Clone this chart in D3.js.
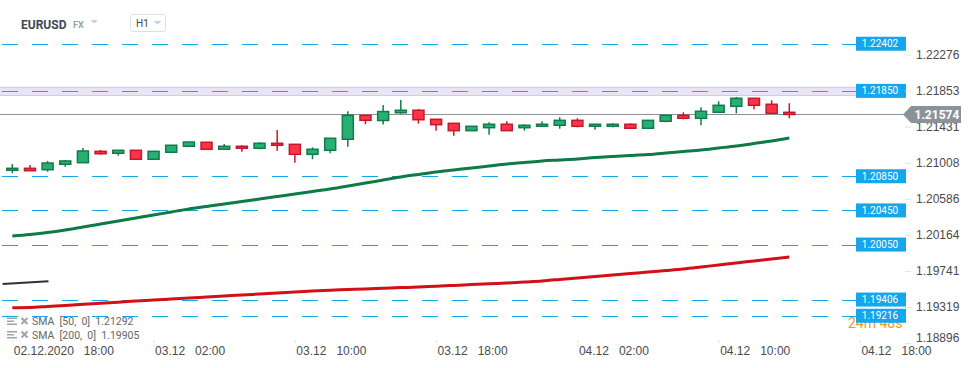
<!DOCTYPE html>
<meta charset="utf-8">

<style>
body { margin: 0; background: #fff; }
svg { font-family: Roboto, Arial, sans-serif; }
.axis .domain { display: none; }
.axis line { stroke: #e3e3e3; }
.axis text { fill: #4a4a4a; font-size: 12px; }
.level-label { fill: #fff; font-size: 10px; text-anchor: middle; }
.legend { fill: #666; font-size: 10.5px; }
</style>

<body>
<script src="https://d3js.org/d3.v7.min.js"></script>
<script>
var w = 974, h = 368;

// hourly EURUSD candles, 02.12.2020 18:00 .. 04.12.2020 14:00
var opens  = [1.20920,1.20943,1.20927,1.20990,1.21009,1.21142,1.21119,1.21154,1.21049,1.21131,
              1.21201,1.21248,1.21166,1.21201,1.21178,1.21236,1.21224,1.21107,1.21154,1.21283,
              1.21564,1.21503,1.21594,1.21623,1.21517,1.21470,1.21384,1.21419,1.21459,1.21419,
              1.21435,1.21447,1.21505,1.21435,1.21435,1.21459,1.21412,1.21494,1.21564,1.21529,
              1.21599,1.21669,1.21763,1.21693,1.21599];
var highs  = [1.20994,1.20982,1.21029,1.21040,1.21181,1.21158,1.21154,1.21154,1.21142,1.21213,
              1.21251,1.21248,1.21228,1.21213,1.21248,1.21392,1.21224,1.21189,1.21295,1.21611,
              1.21564,1.21685,1.21743,1.21638,1.21517,1.21470,1.21435,1.21482,1.21494,1.21459,
              1.21494,1.21541,1.21529,1.21459,1.21470,1.21470,1.21505,1.21564,1.21599,1.21658,
              1.21728,1.21778,1.21763,1.21740,1.21705];
var lows   = [1.20885,1.20915,1.20903,1.20962,1.21009,1.21103,1.21091,1.21049,1.21049,1.21131,
              1.21201,1.21166,1.21166,1.21138,1.21166,1.21149,1.21009,1.21049,1.21119,1.21196,
              1.21459,1.21456,1.21583,1.21466,1.21384,1.21325,1.21384,1.21337,1.21384,1.21384,
              1.21435,1.21407,1.21423,1.21395,1.21423,1.21412,1.21412,1.21482,1.21517,1.21447,
              1.21599,1.21587,1.21634,1.21587,1.21529];
var closes = [1.20943,1.20915,1.21005,1.21029,1.21146,1.21114,1.21154,1.21049,1.21142,1.21213,
              1.21251,1.21166,1.21201,1.21178,1.21236,1.21213,1.21107,1.21166,1.21295,1.21564,
              1.21505,1.21608,1.21623,1.21512,1.21454,1.21384,1.21435,1.21459,1.21384,1.21447,
              1.21459,1.21505,1.21435,1.21459,1.21459,1.21412,1.21505,1.21564,1.21529,1.21611,
              1.21681,1.21763,1.21681,1.21587,1.21574];

var sma50  = [1.20150,1.20168,1.20191,1.20221,1.20256,1.20291,1.20326,1.20361,1.20396,1.20432,
              1.20467,1.20496,1.20525,1.20555,1.20584,1.20613,1.20642,1.20672,1.20701,1.20736,
              1.20771,1.20806,1.20841,1.20871,1.20900,1.20923,1.20947,1.20970,1.20994,1.21011,
              1.21029,1.21040,1.21052,1.21070,1.21082,1.21093,1.21105,1.21122,1.21140,1.21158,
              1.21181,1.21204,1.21234,1.21263,1.21298];
var sma200 = [1.19311,1.19313,1.19325,1.19337,1.19351,1.19362,1.19375,1.19389,1.19401,1.19413,
              1.19424,1.19436,1.19448,1.19460,1.19471,1.19483,1.19495,1.19506,1.19515,1.19523,
              1.19530,1.19538,1.19546,1.19553,1.19563,1.19572,1.19581,1.19591,1.19600,1.19612,
              1.19624,1.19641,1.19659,1.19676,1.19694,1.19711,1.19729,1.19746,1.19764,1.19787,
              1.19811,1.19834,1.19858,1.19881,1.19905];
// short dark line at the far left (bar index, price)
var darkLine = [[-0.55, 1.19588], [2.05, 1.19620]];

var levels = [1.22402, 1.21850, 1.20850, 1.20450, 1.20050, 1.19406, 1.19216];
var zone = [1.21900, 1.21800];
var lastPrice = 1.21574;

var yTicks = [1.22276, 1.21853, 1.21431, 1.21008, 1.20586, 1.20164, 1.19741, 1.19319, 1.18896];
var xTickBars = [0, 8, 16, 24, 32, 40, 48];
var xTickLabels = ["02.12.2020\u00a0\u00a0\u00a018:00", "03.12\u00a0\u00a0\u00a002:00", "03.12\u00a0\u00a0\u00a010:00",
                   "03.12\u00a0\u00a0\u00a018:00", "04.12\u00a0\u00a0\u00a002:00", "04.12\u00a0\u00a0\u00a010:00",
                   "04.12\u00a0\u00a0\u00a018:00"];
var legendRows = ["SMA\u00a0\u00a0[50,\u00a0\u00a00]\u00a0\u00a01.21292", "SMA\u00a0\u00a0[200,\u00a0\u00a00]\u00a0\u00a01.19905"];
var timer = "24m 48s";

var svg = d3.select("body").append("svg")
            .attr("width", w)
            .attr("height", h);

var x = d3.scaleLinear().domain([0, 44]).range([12.3, 789.3]);
var y = d3.scaleLinear().domain([1.18896, 1.22276]).range([343.1, 54.5]);

var green = "#26b073", greenDark = "#137a4b", red = "#ff3347", redDark = "#c4182c";
var blue = "#15a6ec";

// header
svg.append("text").attr("x", 21).attr("y", 28.5)
   .style("font-size", "12px").style("font-weight", "bold").style("fill", "#3d4852")
   .text("EURUSD");
svg.append("text").attr("x", 73).attr("y", 28)
   .style("font-size", "9px").style("font-weight", "bold").style("fill", "#98a3ab")
   .text("FX");
svg.append("path").attr("d", "M90.5,20 L98,20 L94.25,23.5 Z").style("fill", "#c9cfd4");
svg.append("rect").attr("x", 130.5).attr("y", 14.5).attr("width", 35).attr("height", 17).attr("rx", 2)
   .style("fill", "#fff").style("stroke", "#dde1e4");
svg.append("text").attr("x", 136).attr("y", 27.3)
   .style("font-size", "10px").style("fill", "#3d4852")
   .text("H1");
svg.append("path").attr("d", "M153.5,21 L161.5,21 L157.5,24.5 Z").style("fill", "#c9cfd4");

// zone band
svg.append("rect")
   .attr("x", 0).attr("width", 857)
   .attr("y", y(zone[0])).attr("height", y(zone[1]) - y(zone[0]))
   .style("fill", "#e8e4f5");
svg.selectAll(".zone-edge").data(zone).enter().append("line")
   .attr("x1", 0).attr("x2", 857)
   .attr("y1", function(d){ return Math.round(y(d)) + 0.5; })
   .attr("y2", function(d){ return Math.round(y(d)) + 0.5; })
   .style("stroke", "#d2c9ec");

// dashed levels
svg.selectAll(".level").data(levels).enter().append("line")
   .attr("x1", 2).attr("x2", 856)
   .attr("y1", function(d){ return Math.round(y(d)) + 0.5; })
   .attr("y2", function(d){ return Math.round(y(d)) + 0.5; })
   .style("stroke", blue).style("stroke-dasharray", "16,14");

// current price line
svg.append("line")
   .attr("x1", 0).attr("x2", 904)
   .attr("y1", Math.round(y(lastPrice)) + 0.5).attr("y2", Math.round(y(lastPrice)) + 0.5)
   .style("stroke", "#8c9499");

// moving averages
var line = d3.line()
   .x(function(d, i){ return x(i); })
   .y(function(d){ return y(d); })
   .curve(d3.curveMonotoneX);

svg.append("path").datum(sma200).attr("d", line)
   .style("fill", "none").style("stroke", "#d21016").style("stroke-width", 3);
svg.append("path").datum(sma50).attr("d", line)
   .style("fill", "none").style("stroke", "#0d7a48").style("stroke-width", 3);
svg.append("path").datum(darkLine)
   .attr("d", d3.line().x(function(d){ return x(d[0]); }).y(function(d){ return y(d[1]); }))
   .style("fill", "none").style("stroke", "#2e3134").style("stroke-width", 2);

// candles
var candles = svg.append("g").selectAll("g")
   .data(opens.map(function(o, i){ return {i: i, o: o, h: highs[i], l: lows[i], c: closes[i]}; }))
   .enter().append("g");

candles.append("line")
   .attr("x1", function(d){ return x(d.i); })
   .attr("x2", function(d){ return x(d.i); })
   .attr("y1", function(d){ return y(d.h); })
   .attr("y2", function(d){ return y(d.l); })
   .style("stroke", function(d){ return d.c >= d.o ? greenDark : redDark; })
   .style("stroke-width", 1.5);

candles.append("rect")
   .attr("x", function(d){ return x(d.i) - 5.5; })
   .attr("width", 11)
   .attr("y", function(d){ return y(Math.max(d.o, d.c)); })
   .attr("height", function(d){ return Math.max(1.5, Math.abs(y(d.o) - y(d.c))); })
   .style("fill", function(d){ return d.c >= d.o ? green : red; })
   .style("stroke", function(d){ return d.c >= d.o ? greenDark : redDark; })
   .style("stroke-width", 1.5);

// timer, partly hidden behind the lowest label as in the platform
svg.append("text").attr("x", 848).attr("y", 328)
   .style("font-size", "14px").style("fill", "#f7941d")
   .text(timer);

// level labels
var lab = svg.selectAll(".level-box").data(levels).enter().append("g");
lab.append("rect")
   .attr("x", 856).attr("width", 50)
   .attr("y", function(d){ return y(d) - 7; }).attr("height", 14)
   .style("fill", blue);
lab.append("text")
   .attr("class", "level-label")
   .attr("x", 880).attr("y", function(d){ return y(d) + 3.6; })
   .text(function(d){ return d.toFixed(5); });

// y axis
var yAxis = svg.append("g")
   .attr("class", "axis")
   .attr("transform", "translate(905,0)")
   .call(d3.axisRight(y).tickValues(yTicks).tickSize(6).tickPadding(5)
         .tickFormat(function(d){ return d.toFixed(5); }));
yAxis.selectAll("text").filter(function(d){ return d === yTicks[yTicks.length - 1]; })
   .attr("dy", "-0.1em");

// current price tag
var py = y(lastPrice);
svg.append("path")
   .attr("d", "M903," + py + " L911," + (py - 8.5) + " L961," + (py - 8.5) + " L961," + (py + 8.5) + " L911," + (py + 8.5) + " Z")
   .style("fill", "#8b9398");
svg.append("text").attr("x", 914.5).attr("y", py + 4.3)
   .style("font-size", "12px").style("font-weight", "bold").style("fill", "#fff")
   .text(lastPrice.toFixed(5));

// x axis
var xAxis = svg.append("g")
   .attr("class", "axis")
   .attr("transform", "translate(0,340)")
   .call(d3.axisBottom(x).tickValues(xTickBars).tickSize(3)
         .tickFormat(function(d, i){ return xTickLabels[i]; }));
xAxis.selectAll("text").attr("y", 15).attr("dy", 0).attr("x", 1).style("text-anchor", "start");

// legend
var leg = svg.append("g").selectAll("g").data(legendRows).enter().append("g")
   .attr("transform", function(d, i){ return "translate(0," + (321.5 + i * 13.5) + ")"; });
leg.append("rect").attr("x", 7).attr("y", -4).attr("width", 10).attr("height", 1.5).style("fill", "#a3a3a3");
leg.append("rect").attr("x", 7).attr("y", -1).attr("width", 7).attr("height", 1.5).style("fill", "#a3a3a3");
leg.append("rect").attr("x", 7).attr("y", 2).attr("width", 10).attr("height", 1.5).style("fill", "#a3a3a3");
leg.append("path").attr("d", "M21.5,-3.5 L27.5,2.5 M27.5,-3.5 L21.5,2.5")
   .style("stroke", "#a3a3a3").style("stroke-width", 2);
leg.append("text").attr("class", "legend").attr("x", 32).attr("y", 3.7)
   .text(function(d){ return d; });

</script>
</body>
